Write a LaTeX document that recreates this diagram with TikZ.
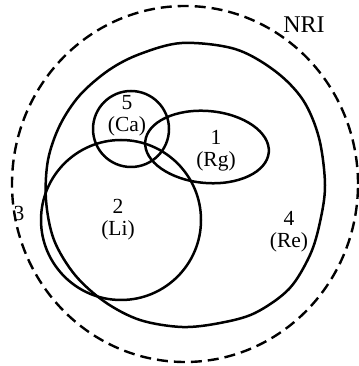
\documentclass[tikz,border=0pt]{standalone}
\usepackage{fontspec}
\setmainfont{Liberation Serif}
\begin{document}
\begin{tikzpicture}[x=1pt,y=1pt,
  set/.style={line width=2.5pt},
  outer/.style={line width=2.4pt, dash pattern=on 11pt off 6pt},
  lbl/.style={align=center, font=\fontsize{21.5}{22}\selectfont, inner sep=0pt}]
\useasboundingbox (0,0) rectangle (358,366);
% NRI dashed boundary
\draw[outer] (185,182) ellipse [x radius=173, y radius=178];
% Re
\draw[set] plot[smooth cycle, tension=0.55] coordinates {
 (182,323) (235,317) (275,295) (303,266) (319,228) (325,181) (320,144)
 (310,111) (289,77) (255,53) (220,43) (182,39) (140,46) (105,64)
 (75,91) (54,126) (46,166) (48,206) (60,241) (80,271) (109,296) (140,312)};
% Li
\draw[set] (121,146) circle [radius=80];
% Ca
\draw[set] (131,237) circle [radius=38];
% Rg
\draw[set, rotate around={-5:(207,219)}] (207,219) ellipse [x radius=62, y radius=36];
% labels
\node[lbl] (ca) at (127,250) {5\\(Ca)};
\node[lbl] (rg) at (216,215) {1\\(Rg)};
\node[lbl] (li) at (118,146) {2\\(Li)};
\node[lbl] (re) at (289,134) {4\\(Re)};
\node[lbl] (three) at (19,153) {3};
\node[lbl, font=\fontsize{24}{26}\selectfont] (nri) at (304,341) {NRI};
\end{tikzpicture}
\end{document}
